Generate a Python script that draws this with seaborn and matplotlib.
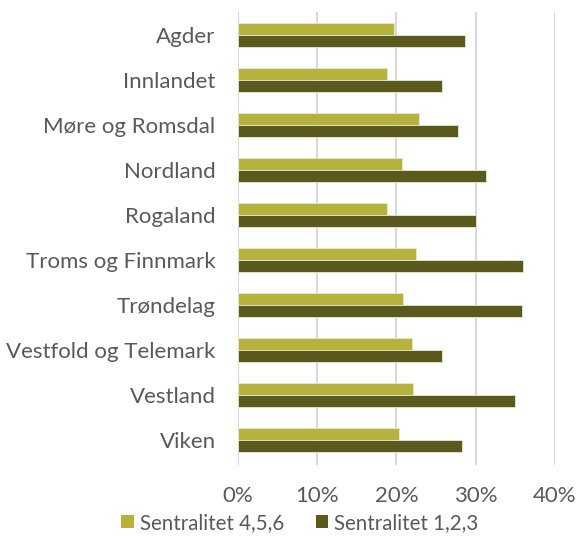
import matplotlib
matplotlib.use("Agg")
import matplotlib.pyplot as plt
from matplotlib.patches import Patch
from matplotlib.ticker import PercentFormatter
import seaborn as sns
import pandas as pd

regions = ["Agder", "Innlandet", "Møre og Romsdal", "Nordland", "Rogaland",
           "Troms og Finnmark", "Trøndelag", "Vestfold og Telemark", "Vestland", "Viken"]
sentralitet_456 = [19.7, 18.8, 22.8, 20.7, 18.8, 22.5, 20.8, 22.0, 22.1, 20.3]
sentralitet_123 = [28.7, 25.7, 27.8, 31.3, 30.0, 35.9, 35.8, 25.7, 34.9, 28.3]
series_names = ["Sentralitet 4,5,6", "Sentralitet 1,2,3"]
xticks = [0, 10, 20, 30, 40]

df = pd.DataFrame({
    "region": regions * 2,
    "value": sentralitet_456 + sentralitet_123,
    "serie": [series_names[0]] * len(regions) + [series_names[1]] * len(regions),
})

colors = ["#B5B33D", "#5A5A1E"]
text_color = "#595959"

sns.set_theme(style="white")
plt.rcParams["font.family"] = ["Lato", "DejaVu Sans"]

fig = plt.figure(figsize=(5.8, 5.36), dpi=100)
ax = fig.add_axes([0.41, 0.1325, 0.547, 0.8455])

sns.barplot(data=df, y="region", x="value", hue="serie", orient="h",
            palette=colors, width=0.533, ax=ax, legend=False,
            edgecolor="#e8e8d0", linewidth=0.6, saturation=1)

ax.set_xlim(0, 40)
ax.set_ylim(9.55, -0.51)
ax.set_xticks(xticks)
ax.xaxis.set_major_formatter(PercentFormatter(decimals=0))
ax.grid(axis="x", color="#d9d9d9", linewidth=1.5)
ax.set_axisbelow(True)
for s in ax.spines.values():
    s.set_visible(False)
ax.set_xlabel("")
ax.set_ylabel("")
ax.tick_params(axis="both", length=0, labelsize=16, labelcolor=text_color)
ax.tick_params(axis="x", pad=15)
ax.tick_params(axis="y", pad=16)

handles = [Patch(facecolor=c, edgecolor="none") for c in colors]
fig.legend(handles, series_names, loc="center", bbox_to_anchor=(0.517, 0.025),
           ncol=2, frameon=False, fontsize=14.8, labelcolor=text_color,
           handlelength=0.6, handleheight=0.6, handletextpad=0.3, columnspacing=1.55,
           borderpad=0, borderaxespad=0)

fig.savefig("out.png", dpi=100)
